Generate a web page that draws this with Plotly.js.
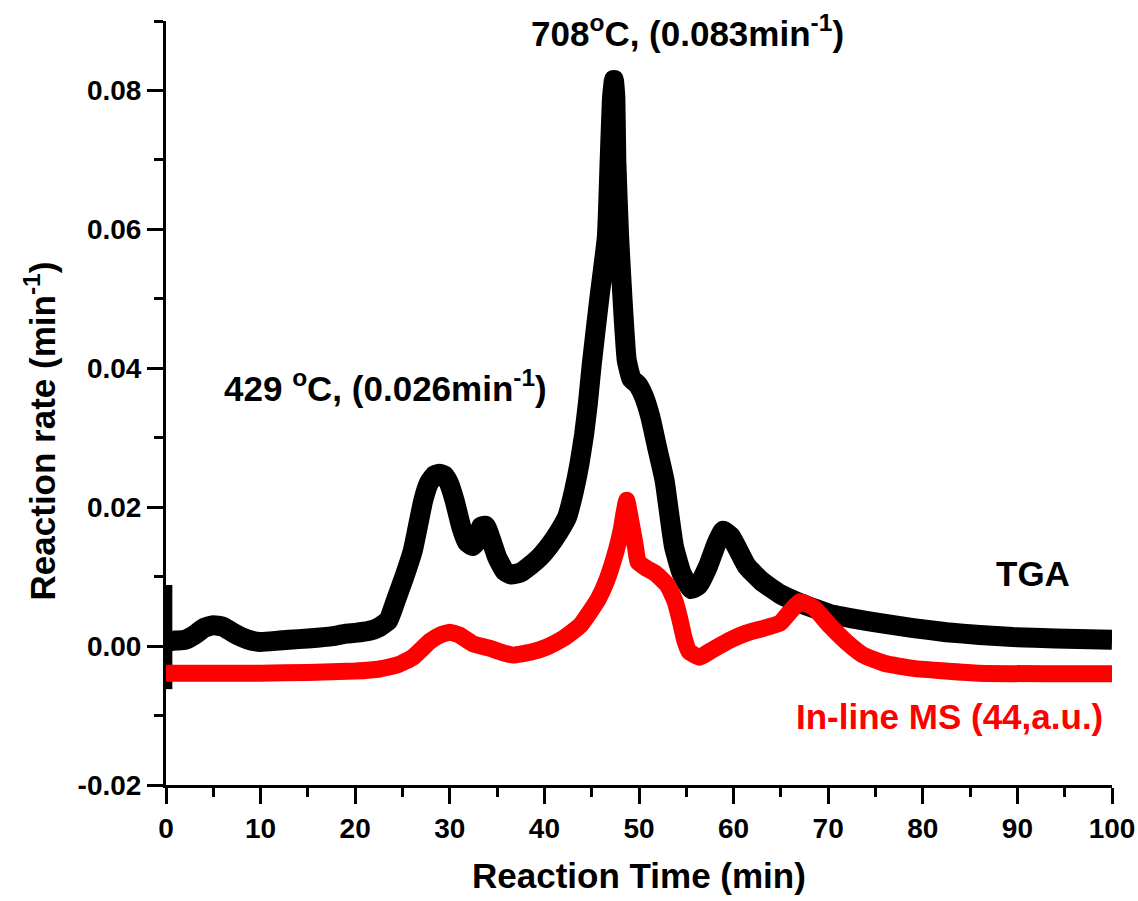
<!DOCTYPE html>
<html>
<head>
<meta charset="utf-8">
<script src="https://cdn.plot.ly/plotly-3.0.1.min.js"></script>
<style>html,body{margin:0;padding:0;background:#fff;}#chart{width:1138px;height:901px;}#chart path.js-line{stroke-linejoin:round;}</style>
</head>
<body>
<div id="chart"></div>
<script>
// TGA reaction rate (min^-1) vs reaction time (min)
const tgaTime = [0.3, 1, 2, 3, 4, 5, 6, 7, 8, 9, 10, 12, 14, 16, 18, 19, 20, 21.5, 22.5, 23.5, 24.3, 25.2, 26.1, 27.2, 27.8, 28.4, 28.9, 29.4, 29.9, 30.5, 31.2, 31.8, 32.4, 32.9, 33.3, 33.8, 34.4, 35.0, 35.8, 36.5, 37.5, 38.5, 39.5, 40.5, 41.5, 42.4, 43.1, 43.7, 44.2, 44.6, 45.0, 45.8, 46.6, 46.9, 47.15, 47.35, 47.5, 47.6, 47.9, 48.3, 48.7, 49.2, 49.9, 50.5, 51.2, 51.9, 52.7, 53.2, 53.7, 54.5, 55.5, 56.3, 57.3, 58.2, 58.9, 59.7, 60.5, 61.4, 63, 64.9, 67, 70.2, 72.5, 75.5, 79, 82.5, 86, 89.5, 94, 100];
const tgaRate = [0.0007, 0.0008, 0.0009, 0.0016, 0.0026, 0.0030, 0.0028, 0.0020, 0.0013, 0.0008, 0.0006, 0.0008, 0.0010, 0.0012, 0.0015, 0.0018, 0.0019, 0.0022, 0.0027, 0.0037, 0.0066, 0.0100, 0.0138, 0.0210, 0.0235, 0.0246, 0.0248, 0.0246, 0.0235, 0.0210, 0.0172, 0.0150, 0.0144, 0.0152, 0.0172, 0.0173, 0.0152, 0.0128, 0.0108, 0.0103, 0.0106, 0.0116, 0.0128, 0.0144, 0.0164, 0.0186, 0.0222, 0.0262, 0.0305, 0.0350, 0.0405, 0.0500, 0.0589, 0.0700, 0.0790, 0.0815, 0.0790, 0.0700, 0.0589, 0.0490, 0.0412, 0.0385, 0.0376, 0.0360, 0.0330, 0.0287, 0.0239, 0.0190, 0.0143, 0.0105, 0.0082, 0.0088, 0.0115, 0.0148, 0.0166, 0.0158, 0.0138, 0.0115, 0.0093, 0.0075, 0.0062, 0.0046, 0.0040, 0.0033, 0.0026, 0.0020, 0.0016, 0.0013, 0.0011, 0.0009];
// initial TGA spike at t = 0
const tgaStartTime = [0.3, 0.3];
const tgaStartRate = [0.0088, -0.0062];
// In-line MS signal (m/z 44, a.u.)
const msTime = [0, 5, 10, 15, 20, 22.6, 24.5, 26.1, 27.9, 29, 30, 31, 32.5, 34.2, 35.5, 36.7, 38.5, 40.3, 42, 43.8, 44.6, 45.7, 46.6, 47.6, 48.1, 48.4, 48.7, 49.0, 49.6, 49.9, 50.8, 51.7, 53.0, 53.8, 54.3, 54.8, 55.3, 56.4, 57.8, 59.5, 61.4, 63, 64.9, 66, 67.0, 68.5, 70.2, 72, 73.7, 76, 79, 86, 100];
const msSignal = [-0.0039, -0.0039, -0.0039, -0.0038, -0.0036, -0.0033, -0.0027, -0.0016, 0.0007, 0.0016, 0.0020, 0.0016, 0.0003, -0.0003, -0.0009, -0.0013, -0.0009, -0.0001, 0.0011, 0.0030, 0.0045, 0.0068, 0.0095, 0.0138, 0.0166, 0.0190, 0.0210, 0.0190, 0.0145, 0.0121, 0.0112, 0.0105, 0.0088, 0.0065, 0.0040, 0.0010, -0.0008, -0.0016, -0.0005, 0.0008, 0.0019, 0.0025, 0.0033, 0.0050, 0.0064, 0.0055, 0.0029, 0.0005, -0.0013, -0.0025, -0.0032, -0.0039, -0.0040];

const xTickVals = [0, 10, 20, 30, 40, 50, 60, 70, 80, 90, 100];
const xTickText = ['0', '10', '20', '30', '40', '50', '60', '70', '80', '90', '100'];
const yTickVals = [-0.02, 0.00, 0.02, 0.04, 0.06, 0.08];
const yTickText = ['-0.02', '0.00', '0.02', '0.04', '0.06', '0.08'];

const FONT = 'Liberation Sans, Arial, Helvetica, sans-serif';

const traces = [
  {x: tgaStartTime, y: tgaStartRate, mode: 'lines', line: {color: '#000', width: 7}, hoverinfo: 'skip', showlegend: false},
  {x: tgaTime, y: tgaRate, mode: 'lines', name: 'TGA', line: {color: '#000', width: 20, shape: 'spline', smoothing: 0.4}, showlegend: false},
  {x: msTime, y: msSignal, mode: 'lines', name: 'In-line MS', line: {color: '#ff0000', width: 17, shape: 'spline', smoothing: 0.4}, showlegend: false}
];

const axisCommon = {
  showgrid: false, zeroline: false, showline: true, linecolor: '#000', linewidth: 3,
  ticks: 'outside', ticklen: 16, tickwidth: 3, tickcolor: '#000',
  tickfont: {family: FONT, size: 28, color: '#000', weight: 'bold'}
};

const layout = {
  width: 1138, height: 901,
  margin: {l: 166, r: 26, t: 21, b: 116},
  paper_bgcolor: '#fff', plot_bgcolor: '#fff',
  font: {family: FONT, color: '#000', weight: 'bold'},
  xaxis: Object.assign({}, axisCommon, {
    range: [0, 100], tickmode: 'array', tickvals: xTickVals, ticktext: xTickText,
    minor: {dtick: 5, ticks: 'outside', ticklen: 9, tickwidth: 3, tickcolor: '#000', showgrid: false}
  }),
  yaxis: Object.assign({}, axisCommon, {
    range: [-0.02, 0.09], tickmode: 'array', tickvals: yTickVals, ticktext: yTickText,
    minor: {dtick: 0.01, tick0: 0, ticks: 'outside', ticklen: 9, tickwidth: 3, tickcolor: '#000', showgrid: false}
  }),
  annotations: [
    {text: 'Reaction Time (min)', xref: 'paper', yref: 'paper', x: 0.5, y: -0.119, xanchor: 'center', yanchor: 'middle', showarrow: false, font: {family: FONT, size: 35, color: '#000', weight: 'bold'}},
    {text: 'Reaction rate (min<sup>-1</sup>)', xref: 'paper', yref: 'paper', x: -0.133, y: 0.463, xanchor: 'center', yanchor: 'middle', textangle: -90, showarrow: false, font: {family: FONT, size: 35, color: '#000', weight: 'bold'}},
    {text: '708<sup>o</sup>C, (0.083min<sup>-1</sup>)', xref: 'x', yref: 'y', x: 55.1, y: 0.0886, xanchor: 'center', yanchor: 'middle', showarrow: false, font: {family: FONT, size: 35, color: '#000', weight: 'bold'}},
    {text: '429 <sup>o</sup>C, (0.026min<sup>-1</sup>)', xref: 'x', yref: 'y', x: 23.25, y: 0.0375, xanchor: 'center', yanchor: 'middle', showarrow: false, font: {family: FONT, size: 35, color: '#000', weight: 'bold'}},
    {text: 'TGA', xref: 'x', yref: 'y', x: 91.65, y: 0.0104, xanchor: 'center', yanchor: 'middle', showarrow: false, font: {family: FONT, size: 35, color: '#000', weight: 'bold'}},
    {text: 'In-line MS (44,a.u.)', xref: 'x', yref: 'y', x: 82.8, y: -0.0102, xanchor: 'center', yanchor: 'middle', showarrow: false, font: {family: FONT, size: 35, color: '#ff0000', weight: 'bold'}}
  ]
};

Plotly.newPlot('chart', traces, layout, {displayModeBar: false, staticPlot: true});
</script>
</body>
</html>
